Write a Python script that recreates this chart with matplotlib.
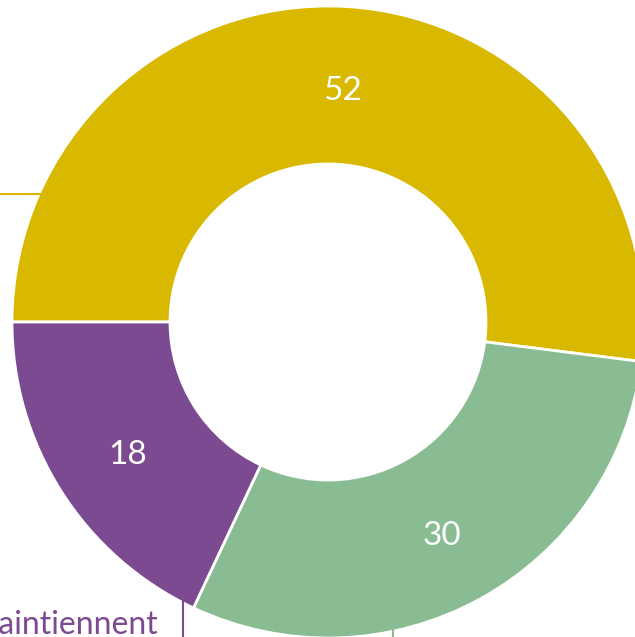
import matplotlib.pyplot as plt
import numpy as np

# Données
categories = ['Augmentent', 'Diminuent', 'Se maintiennent']
valeurs = [52, 30, 18]
couleurs = ['#D9B800', '#8ABC94', '#7B4A91']

fig = plt.figure(figsize=(6.35, 6.37), dpi=100)
ax = fig.add_axes([0, 0, 1, 1])

# Anneau (le graphique d'origine est recadré)
wedges, _ = ax.pie(valeurs, colors=couleurs, startangle=180, counterclock=False,
                   radius=1, wedgeprops=dict(width=0.5, edgecolor='white', linewidth=2))

s = 316.0
def px(x, y):
    return (x - 328) / s, (322 - y) / s

# Valeurs au milieu de l'anneau
for w, v in zip(wedges, valeurs):
    ang = np.deg2rad((w.theta1 + w.theta2) / 2)
    ax.text(0.75 * np.cos(ang), 0.75 * np.sin(ang) - 6 / s, str(v), color='white',
            fontsize=24, ha='center', va='center', family='Lato')

# Repères vers les étiquettes (hors cadre)
x0, y0 = px(-20, 194); x1, y1 = px(40, 194)
ax.plot([x0, x1], [y0, y1], color=couleurs[0], lw=1.5)
x0, y0 = px(183, 600); x1, y1 = px(183, 660)
ax.plot([x0, x1], [y0, y1], color=couleurs[2], lw=1.5)
x0, y0 = px(393, 628); x1, y1 = px(393, 660)
ax.plot([x0, x1], [y0, y1], color=couleurs[1], lw=1.5)

tx, ty = px(158, 634)
ax.text(tx, ty, categories[2].lower(), color=couleurs[2], fontsize=23,
        ha='right', va='baseline', family='Lato')

ax.set_xlim(-328 / s, (635 - 328) / s)
ax.set_ylim((322 - 637) / s, 322 / s)
ax.set_aspect('equal')
ax.axis('off')

fig.savefig('out.png', dpi=100)
